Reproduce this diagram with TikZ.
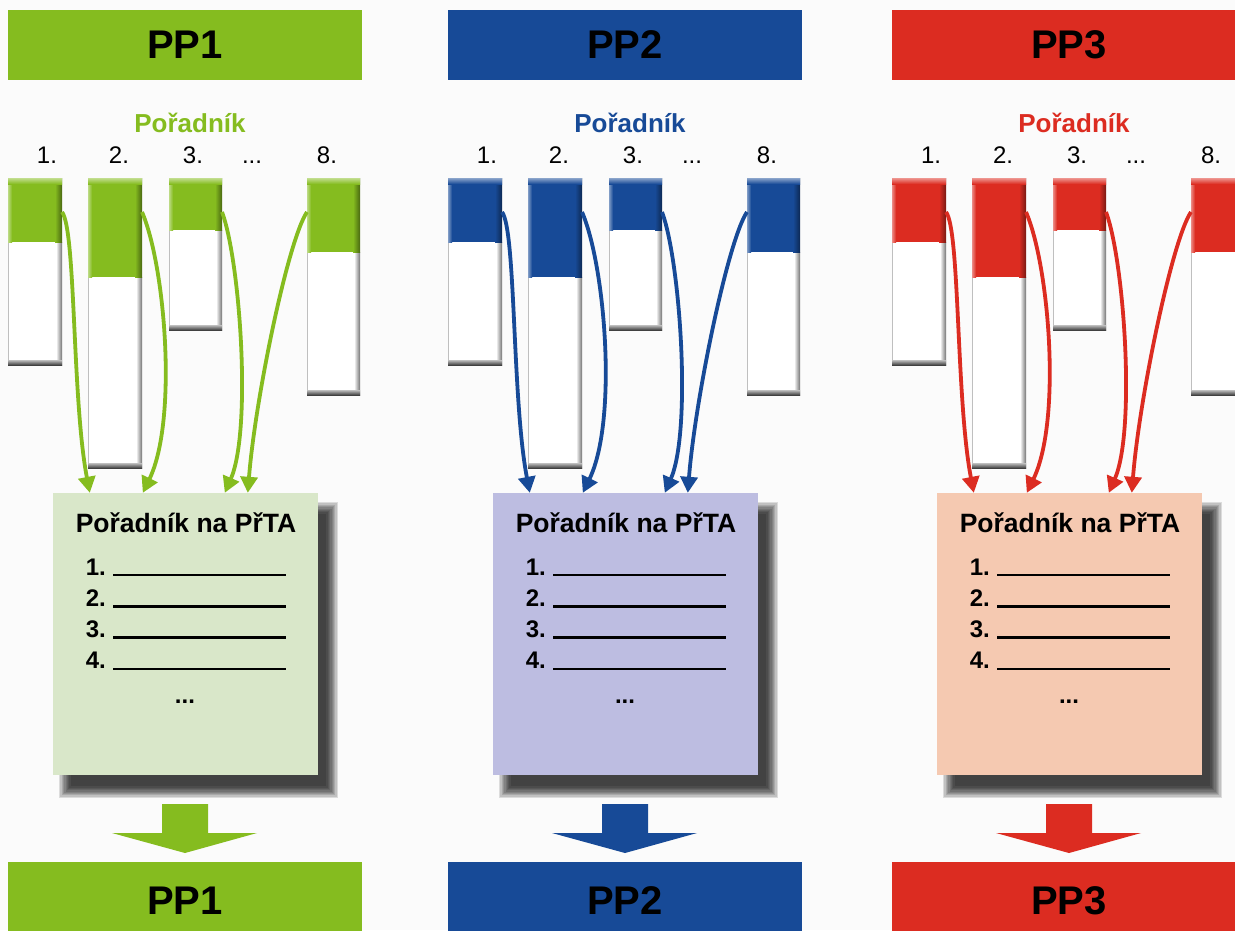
\documentclass[tikz,border=0pt]{standalone}
\usepackage{fontspec}
\setmainfont{Liberation Sans}
\usetikzlibrary{arrows.meta,calc}
\definecolor{pgreen}{RGB}{133,188,31}
\definecolor{pblue}{RGB}{23,74,151}
\definecolor{pred}{RGB}{220,44,33}
\definecolor{lgreen}{RGB}{217,231,201}
\definecolor{lblue}{RGB}{189,189,225}
\definecolor{lred}{RGB}{245,201,177}
\definecolor{bgc}{RGB}{251,251,251}
% x0, x1, y of colour end, y bottom, colour
\newcommand\drawbar[5]{%
  \fill[white] (#1,178) rectangle (#2,#4);
  \shade[left color=white, right color=black!55] (#2-6,#3) rectangle (#2,#4);
  \shade[top color=black!25, bottom color=black!75] (#1,#4-5) rectangle (#2,#4);
  \draw[black!25, line width=0.6pt] (#1,#3) -- (#1,#4-4);
  \fill[#5] (#1,178) rectangle (#2,#3);
  \shade[left color=#5, right color=#5!55!black] (#2-7,178) rectangle (#2,#3);
  \shade[left color=#5!55!white, right color=#5] (#1,178) rectangle (#1+4,#3);
  \shade[top color=#5!50!white, bottom color=#5] (#1,178) rectangle (#2,184);
}
\begin{document}
\begin{tikzpicture}[x=1pt,y=-1pt,
  banner/.style={minimum width=354pt, minimum height=70pt, inner sep=0pt,
    font=\bfseries\fontsize{40}{44}\selectfont, text=black},
  pbox/.style={minimum width=265pt, minimum height=282pt, inner sep=0pt},
  conn/.style={line width=3.8pt, -{Triangle[length=16pt,width=17pt]}},
  num/.style={anchor=base, inner sep=0pt, font=\fontsize{24}{28}\selectfont},
  ttl/.style={anchor=base, inner sep=0pt, font=\bfseries\fontsize{26}{30}\selectfont},
  boxttl/.style={anchor=base, inner sep=0pt, font=\bfseries\fontsize{26.5}{30}\selectfont},
  lst/.style={inner sep=0pt, font=\bfseries\fontsize{24}{28}\selectfont},
  rule/.style={line width=2.4pt, black},
  shadowlayer/.style={fill=black, opacity=0.12}]
\fill[bgc] (0,0) rectangle (1235,930);
\useasboundingbox (0,0) rectangle (1235,930);
\clip (0,0) rectangle (1235,930);
\foreach \i/\ox/\c/\l in {1/0/pgreen/lgreen, 2/440/pblue/lblue, 3/884/pred/lred}{
\begin{scope}[xshift=\ox pt]
  % banners
  \node[banner, fill=\c] (top\i) at (185,45) {PP\i};
  \node[banner, fill=\c, minimum height=74pt] (bot\i) at (185,899) {};
  \node[inner sep=0pt, font=\bfseries\fontsize{40}{44}\selectfont, anchor=base] (botlbl\i) at (185,914) {PP\i};
  % heading
  \node[ttl, text=\c] (head\i) at (190,132) {Pořadník};
  \node[num] (n1\i) at (47,163) {1.};
  \node[num] (n2\i) at (119,163) {2.};
  \node[num] (n3\i) at (193,163) {3.};
  \node[num] (n4\i) at (252,163) {...};
  \node[num] (n8\i) at (327,163) {8.};
  % bars
  \drawbar{8}{62}{242}{365}{\c}
  \drawbar{88}{142}{277}{468}{\c}
  \drawbar{169}{222}{230}{330}{\c}
  \drawbar{307}{360}{252}{395}{\c}
  \coordinate (s1\i) at (62,212);
  \coordinate (s2\i) at (142,212);
  \coordinate (s3\i) at (222,212);
  \coordinate (s8\i) at (307,212);
  % shadow of the list box
  \foreach \j in {0,...,9}{
    \fill[shadowlayer] ({53+13-7+\j*1.3},{493+16-7+\j*1.3}) rectangle ({318+13+7-\j*1.3},{775+16+7-\j*1.3});
  }
  % list box
  \node[pbox, fill=\l] (box\i) at (185.5,634) {};
  \node[boxttl] (bt\i) at (186,532) {Pořadník na PřTA};
  \foreach \k in {1,2,3,4}{
    \node[lst, anchor=base east] (li\k\i) at (106,{575+(\k-1)*31.3}) {\k.};
    \draw[rule] (113,{575+(\k-1)*31.3}) -- (286,{575+(\k-1)*31.3});
  }
  \node[lst, anchor=base] (dots\i) at (185,703) {...};
  % connectors
  \draw[conn, draw=\c] (s1\i) .. controls (76,230) and (72,400) .. ([xshift=37pt]box\i.north west);
  \draw[conn, draw=\c] (s2\i) .. controls (165,265) and (178,420) .. ([xshift=90pt]box\i.north west);
  \draw[conn, draw=\c] (s3\i) .. controls (240,260) and (252,430) .. ([xshift=172pt]box\i.north west);
  \draw[conn, draw=\c] (s8\i) .. controls (288,240) and (255,400) .. ([xshift=195pt]box\i.north west);
  % big down arrow
  \fill[\c] (162,804) -- (208,804) -- (208,833) -- (257,833) -- (185,853) -- (112,833) -- (162,833) -- cycle;
\end{scope}
}
\end{tikzpicture}
\end{document}
